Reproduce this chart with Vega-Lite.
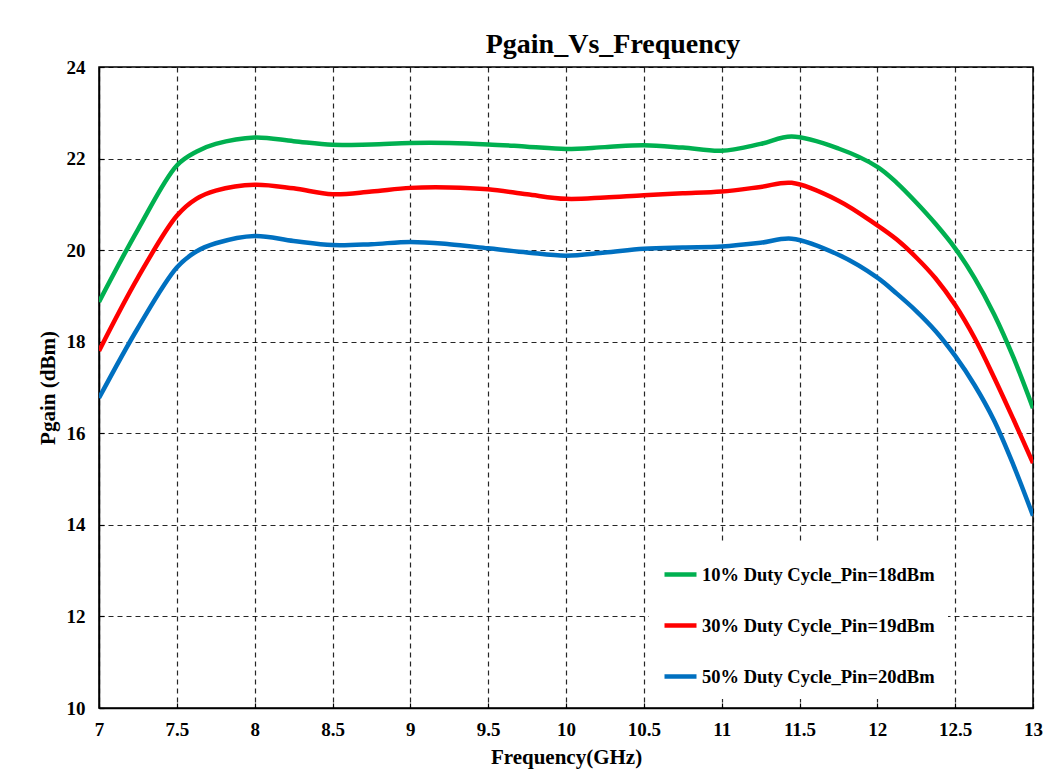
{
  "$schema": "https://vega.github.io/schema/vega-lite/v6.json",
  "autosize": "none",
  "width": 934,
  "height": 641,
  "padding": {"left": 99, "top": 67, "right": 19, "bottom": 63},
  "background": "white",
  "title": {
    "text": "Pgain_Vs_Frequency",
    "font": "Liberation Serif",
    "fontSize": 28,
    "fontWeight": "bold",
    "color": "#000",
    "anchor": "middle",
    "dx": 47,
    "offset": -1
  },
  "config": {
    "view": {"stroke": "#000", "strokeWidth": 1.5},
    "axis": {
      "labelFont": "Liberation Serif",
      "labelFontWeight": "bold",
      "labelFontSize": 19,
      "labelColor": "#000",
      "titleFont": "Liberation Serif",
      "titleFontWeight": "bold",
      "titleFontSize": 21,
      "titleColor": "#000",
      "domainColor": "#000",
      "domainWidth": 1.5,
      "grid": true,
      "gridColor": "#000",
      "gridDash": [5, 4],
      "gridWidth": 1.2,
      "gridOpacity": 0.85,
      "ticks": true,
      "tickSize": -5,
      "tickColor": "#000",
      "tickWidth": 1.2
    }
  },
  "data": {
    "values": [
      {"freq": 7, "series": "10% Duty Cycle_Pin=18dBm", "gain": 18.87},
      {"freq": 7.25, "series": "10% Duty Cycle_Pin=18dBm", "gain": 20.45},
      {"freq": 7.5, "series": "10% Duty Cycle_Pin=18dBm", "gain": 21.85},
      {"freq": 7.625, "series": "10% Duty Cycle_Pin=18dBm", "gain": 22.15},
      {"freq": 7.75, "series": "10% Duty Cycle_Pin=18dBm", "gain": 22.32},
      {"freq": 8, "series": "10% Duty Cycle_Pin=18dBm", "gain": 22.46},
      {"freq": 8.25, "series": "10% Duty Cycle_Pin=18dBm", "gain": 22.38},
      {"freq": 8.5, "series": "10% Duty Cycle_Pin=18dBm", "gain": 22.3},
      {"freq": 8.75, "series": "10% Duty Cycle_Pin=18dBm", "gain": 22.31},
      {"freq": 9, "series": "10% Duty Cycle_Pin=18dBm", "gain": 22.34},
      {"freq": 9.25, "series": "10% Duty Cycle_Pin=18dBm", "gain": 22.34},
      {"freq": 9.5, "series": "10% Duty Cycle_Pin=18dBm", "gain": 22.31},
      {"freq": 9.75, "series": "10% Duty Cycle_Pin=18dBm", "gain": 22.26},
      {"freq": 10, "series": "10% Duty Cycle_Pin=18dBm", "gain": 22.21},
      {"freq": 10.25, "series": "10% Duty Cycle_Pin=18dBm", "gain": 22.25},
      {"freq": 10.5, "series": "10% Duty Cycle_Pin=18dBm", "gain": 22.29},
      {"freq": 10.75, "series": "10% Duty Cycle_Pin=18dBm", "gain": 22.24},
      {"freq": 11, "series": "10% Duty Cycle_Pin=18dBm", "gain": 22.17},
      {"freq": 11.25, "series": "10% Duty Cycle_Pin=18dBm", "gain": 22.32},
      {"freq": 11.45, "series": "10% Duty Cycle_Pin=18dBm", "gain": 22.48},
      {"freq": 11.75, "series": "10% Duty Cycle_Pin=18dBm", "gain": 22.22},
      {"freq": 12, "series": "10% Duty Cycle_Pin=18dBm", "gain": 21.82},
      {"freq": 12.125, "series": "10% Duty Cycle_Pin=18dBm", "gain": 21.47},
      {"freq": 12.25, "series": "10% Duty Cycle_Pin=18dBm", "gain": 21.04},
      {"freq": 12.375, "series": "10% Duty Cycle_Pin=18dBm", "gain": 20.57},
      {"freq": 12.5, "series": "10% Duty Cycle_Pin=18dBm", "gain": 20.04},
      {"freq": 12.625, "series": "10% Duty Cycle_Pin=18dBm", "gain": 19.39},
      {"freq": 12.75, "series": "10% Duty Cycle_Pin=18dBm", "gain": 18.6},
      {"freq": 12.875, "series": "10% Duty Cycle_Pin=18dBm", "gain": 17.65},
      {"freq": 13, "series": "10% Duty Cycle_Pin=18dBm", "gain": 16.55},

      {"freq": 7, "series": "30% Duty Cycle_Pin=19dBm", "gain": 17.8},
      {"freq": 7.25, "series": "30% Duty Cycle_Pin=19dBm", "gain": 19.4},
      {"freq": 7.5, "series": "30% Duty Cycle_Pin=19dBm", "gain": 20.75},
      {"freq": 7.625, "series": "30% Duty Cycle_Pin=19dBm", "gain": 21.12},
      {"freq": 7.75, "series": "30% Duty Cycle_Pin=19dBm", "gain": 21.3},
      {"freq": 8, "series": "30% Duty Cycle_Pin=19dBm", "gain": 21.43},
      {"freq": 8.25, "series": "30% Duty Cycle_Pin=19dBm", "gain": 21.35},
      {"freq": 8.5, "series": "30% Duty Cycle_Pin=19dBm", "gain": 21.22},
      {"freq": 8.75, "series": "30% Duty Cycle_Pin=19dBm", "gain": 21.28},
      {"freq": 9, "series": "30% Duty Cycle_Pin=19dBm", "gain": 21.36},
      {"freq": 9.25, "series": "30% Duty Cycle_Pin=19dBm", "gain": 21.37},
      {"freq": 9.5, "series": "30% Duty Cycle_Pin=19dBm", "gain": 21.33},
      {"freq": 9.75, "series": "30% Duty Cycle_Pin=19dBm", "gain": 21.22},
      {"freq": 10, "series": "30% Duty Cycle_Pin=19dBm", "gain": 21.12},
      {"freq": 10.25, "series": "30% Duty Cycle_Pin=19dBm", "gain": 21.15},
      {"freq": 10.5, "series": "30% Duty Cycle_Pin=19dBm", "gain": 21.2},
      {"freq": 10.75, "series": "30% Duty Cycle_Pin=19dBm", "gain": 21.24},
      {"freq": 11, "series": "30% Duty Cycle_Pin=19dBm", "gain": 21.28},
      {"freq": 11.25, "series": "30% Duty Cycle_Pin=19dBm", "gain": 21.38},
      {"freq": 11.45, "series": "30% Duty Cycle_Pin=19dBm", "gain": 21.47},
      {"freq": 11.75, "series": "30% Duty Cycle_Pin=19dBm", "gain": 21.08},
      {"freq": 12, "series": "30% Duty Cycle_Pin=19dBm", "gain": 20.54},
      {"freq": 12.125, "series": "30% Duty Cycle_Pin=19dBm", "gain": 20.23},
      {"freq": 12.25, "series": "30% Duty Cycle_Pin=19dBm", "gain": 19.84},
      {"freq": 12.375, "series": "30% Duty Cycle_Pin=19dBm", "gain": 19.38},
      {"freq": 12.5, "series": "30% Duty Cycle_Pin=19dBm", "gain": 18.8},
      {"freq": 12.625, "series": "30% Duty Cycle_Pin=19dBm", "gain": 18.08},
      {"freq": 12.75, "series": "30% Duty Cycle_Pin=19dBm", "gain": 17.22},
      {"freq": 12.875, "series": "30% Duty Cycle_Pin=19dBm", "gain": 16.3},
      {"freq": 13, "series": "30% Duty Cycle_Pin=19dBm", "gain": 15.35},

      {"freq": 7, "series": "50% Duty Cycle_Pin=20dBm", "gain": 16.77},
      {"freq": 7.25, "series": "50% Duty Cycle_Pin=20dBm", "gain": 18.3},
      {"freq": 7.5, "series": "50% Duty Cycle_Pin=20dBm", "gain": 19.62},
      {"freq": 7.625, "series": "50% Duty Cycle_Pin=20dBm", "gain": 19.97},
      {"freq": 7.75, "series": "50% Duty Cycle_Pin=20dBm", "gain": 20.15},
      {"freq": 8, "series": "50% Duty Cycle_Pin=20dBm", "gain": 20.31},
      {"freq": 8.25, "series": "50% Duty Cycle_Pin=20dBm", "gain": 20.2},
      {"freq": 8.5, "series": "50% Duty Cycle_Pin=20dBm", "gain": 20.11},
      {"freq": 8.75, "series": "50% Duty Cycle_Pin=20dBm", "gain": 20.13},
      {"freq": 9, "series": "50% Duty Cycle_Pin=20dBm", "gain": 20.18},
      {"freq": 9.25, "series": "50% Duty Cycle_Pin=20dBm", "gain": 20.13},
      {"freq": 9.5, "series": "50% Duty Cycle_Pin=20dBm", "gain": 20.04},
      {"freq": 9.75, "series": "50% Duty Cycle_Pin=20dBm", "gain": 19.95},
      {"freq": 10, "series": "50% Duty Cycle_Pin=20dBm", "gain": 19.88},
      {"freq": 10.25, "series": "50% Duty Cycle_Pin=20dBm", "gain": 19.95},
      {"freq": 10.5, "series": "50% Duty Cycle_Pin=20dBm", "gain": 20.03},
      {"freq": 10.75, "series": "50% Duty Cycle_Pin=20dBm", "gain": 20.06},
      {"freq": 11, "series": "50% Duty Cycle_Pin=20dBm", "gain": 20.08},
      {"freq": 11.25, "series": "50% Duty Cycle_Pin=20dBm", "gain": 20.16},
      {"freq": 11.45, "series": "50% Duty Cycle_Pin=20dBm", "gain": 20.25},
      {"freq": 11.75, "series": "50% Duty Cycle_Pin=20dBm", "gain": 19.9},
      {"freq": 12, "series": "50% Duty Cycle_Pin=20dBm", "gain": 19.4},
      {"freq": 12.125, "series": "50% Duty Cycle_Pin=20dBm", "gain": 19.05},
      {"freq": 12.25, "series": "50% Duty Cycle_Pin=20dBm", "gain": 18.67},
      {"freq": 12.375, "series": "50% Duty Cycle_Pin=20dBm", "gain": 18.23},
      {"freq": 12.5, "series": "50% Duty Cycle_Pin=20dBm", "gain": 17.69},
      {"freq": 12.625, "series": "50% Duty Cycle_Pin=20dBm", "gain": 17.05},
      {"freq": 12.75, "series": "50% Duty Cycle_Pin=20dBm", "gain": 16.28},
      {"freq": 12.875, "series": "50% Duty Cycle_Pin=20dBm", "gain": 15.3},
      {"freq": 13, "series": "50% Duty Cycle_Pin=20dBm", "gain": 14.2}
    ]
  },
  "mark": {"type": "line", "interpolate": "catmull-rom", "strokeWidth": 4.5, "clip": true},
  "encoding": {
    "x": {
      "field": "freq",
      "type": "quantitative",
      "scale": {"domain": [7, 13], "nice": false, "zero": false},
      "axis": {
        "title": "Frequency(GHz)",
        "values": [7, 7.5, 8, 8.5, 9, 9.5, 10, 10.5, 11, 11.5, 12, 12.5, 13],
        "format": "~g",
        "labelPadding": 17,
        "titlePadding": 7,
        "labelFlush": false
      }
    },
    "y": {
      "field": "gain",
      "type": "quantitative",
      "scale": {"domain": [10, 24], "nice": false, "zero": false},
      "axis": {
        "title": "Pgain (dBm)",
        "values": [10, 12, 14, 16, 18, 20, 22, 24],
        "labelPadding": 19,
        "titlePadding": 8,
        "labelFlush": false
      }
    },
    "color": {
      "field": "series",
      "type": "nominal",
      "scale": {
        "domain": ["10% Duty Cycle_Pin=18dBm", "30% Duty Cycle_Pin=19dBm", "50% Duty Cycle_Pin=20dBm"],
        "range": ["#00B050", "#FF0000", "#0070C0"]
      },
      "legend": {
        "title": null,
        "orient": "none",
        "legendX": 550,
        "legendY": 476,
        "fillColor": "white",
        "padding": 13,
        "symbolType": "stroke",
        "symbolSize": 1024,
        "symbolStrokeWidth": 4.5,
        "labelFont": "Liberation Serif",
        "labelFontWeight": "bold",
        "labelFontSize": 18.5,
        "labelColor": "#000",
        "labelOffset": 3,
        "rowPadding": 23,
        "labelLimit": 400
      }
    }
  }
}
